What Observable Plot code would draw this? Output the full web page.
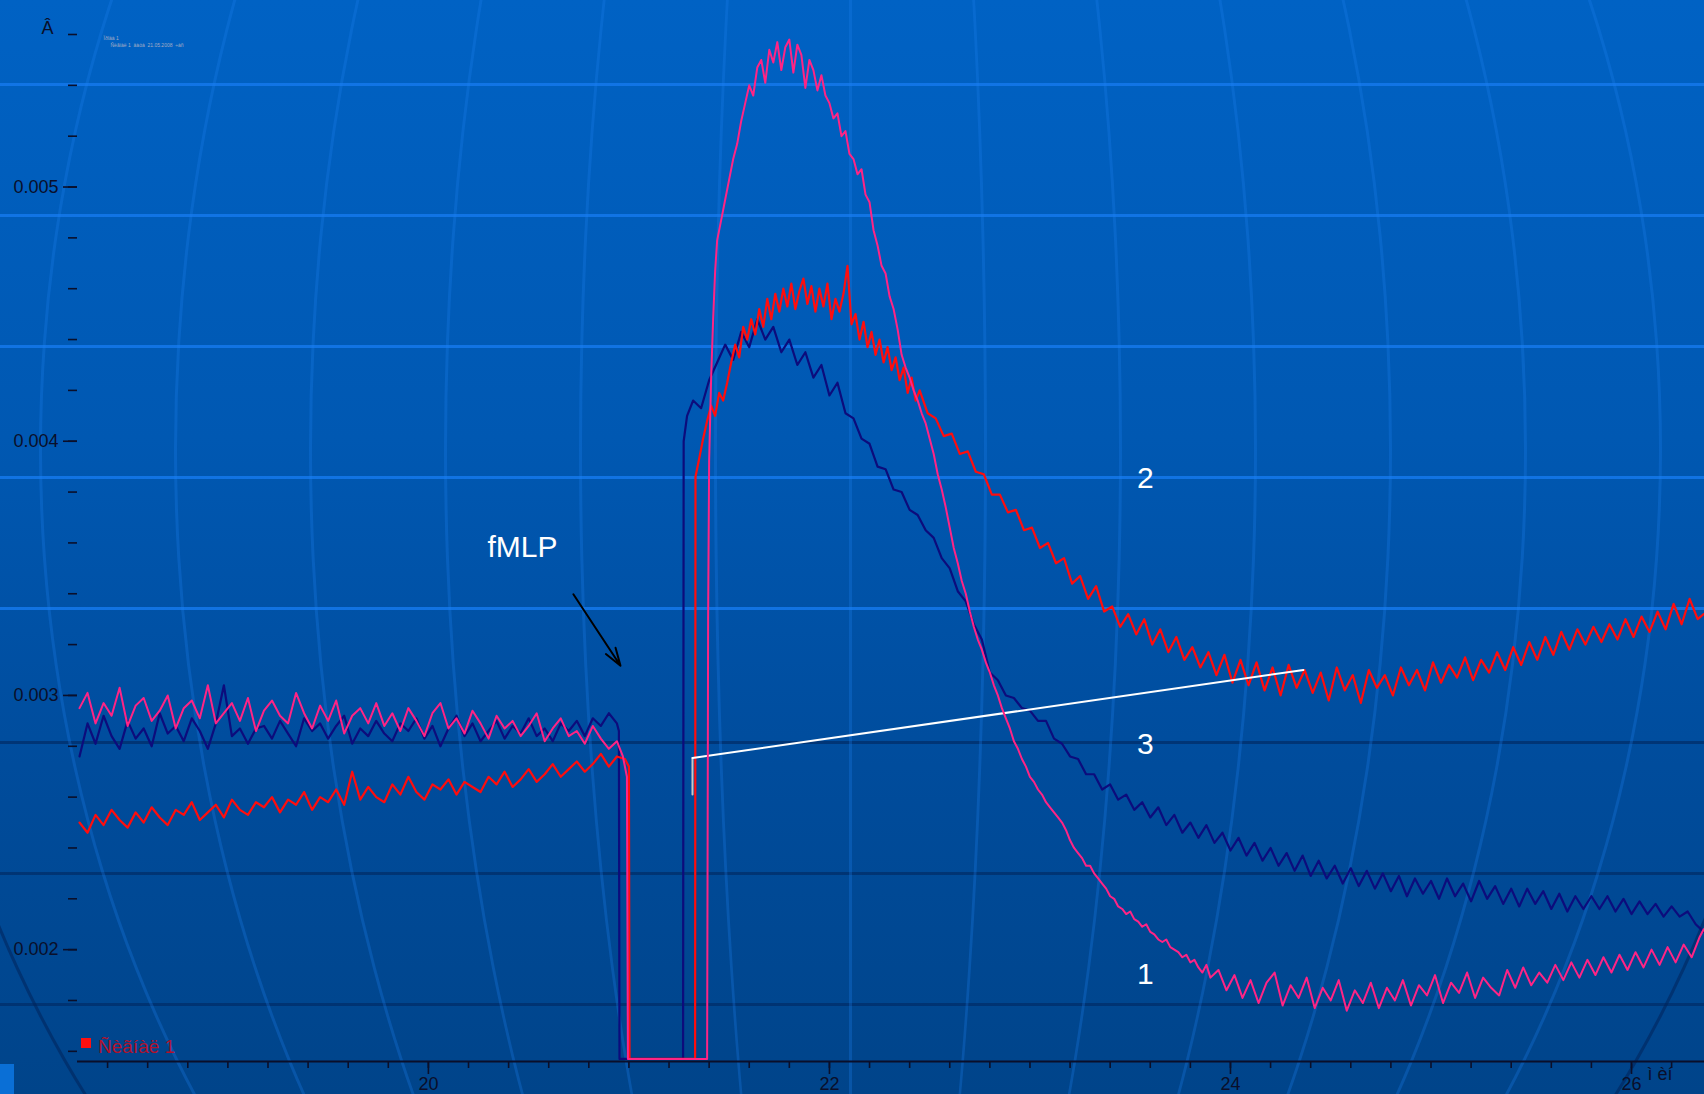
<!DOCTYPE html>
<html>
<head>
<meta charset="utf-8">
<script src="https://cdn.jsdelivr.net/npm/d3@7"></script>
<script src="https://cdn.jsdelivr.net/npm/@observablehq/plot@0.6"></script>
<style>
html, body { margin: 0; padding: 0; width: 1704px; height: 1094px; overflow: hidden; background: #00509f; }
#wrap {
  position: relative; width: 1704px; height: 1094px; overflow: hidden;
  background:
    repeating-linear-gradient(to bottom, transparent 0 83px, rgba(20,120,235,0.85) 83px 86px, transparent 86px 131px) 0 0 / 100% 680px no-repeat,
    repeating-linear-gradient(to bottom, transparent 0 61px, rgba(0,45,105,0.75) 61px 64px, transparent 64px 131px) 0 680px / 100% 414px no-repeat,
    linear-gradient(to bottom, #0062c4 0%, #0058b2 40%, #004c9c 70%, #00448a 100%);
}
#wrap svg { position: absolute; left: 0; top: 0; }
.meridian { position: absolute; box-sizing: border-box; border-radius: 50%; pointer-events: none; }
#legend { position: absolute; left: 81px; top: 1036px; font: 19px "Liberation Sans", Arial, sans-serif; color: #b0122c; white-space: nowrap; }
#legend .sw { display: inline-block; width: 10px; height: 10px; background: #ff1010; margin-right: 7px; vertical-align: 5px; }
#corner { position: absolute; left: 0; top: 1064px; width: 14px; height: 30px; background: #0a6fd6; }
</style>
</head>
<body>
<div id="wrap"></div>
<script>
// ---------- ticks ----------
const xMinorTicks = [18.4,18.6,18.8,19,19.2,19.4,19.6,19.8,20,20.2,20.4,20.6,20.8,21,21.2,21.4,21.6,21.8,22,22.2,22.4,22.6,22.8,23,23.2,23.4,23.6,23.8,24,24.2,24.4,24.6,24.8,25,25.2,25.4,25.6,25.8,26,26.2];
const xMajorTicks = [20, 22, 24, 26];
const yMinorTicks = [0.0016,0.0018,0.002,0.0022,0.0024,0.0026,0.0028,0.003,0.0032,0.0034,0.0036,0.0038,0.004,0.0042,0.0044,0.0046,0.0048,0.005,0.0052,0.0054,0.0056];
const yMajorTicks = [0.002, 0.003, 0.004, 0.005];

// ---------- texts ----------
const yAxisLabel = "Â";
const xAxisLabel = "ì èí";
const legendLabel = "Ñèãíàë 1";
const headerTiny = ["Ïðîáà 1", "Ñèãíàë 1  äàòà  21.05.2008  ÷àñ"];
const curveLabels = ["2", "3", "1"];
const curveLabelT = [23.576, 23.576, 23.576];
const curveLabelV = [0.003855, 0.002809, 0.001902];
const stimulusLabel = "fMLP";
const stimulusT = 20.469, stimulusV = 0.003582;
const arrowFrom = [20.723, 0.003398], arrowTo = [20.958, 0.003117];

// ---------- data: before stimulus (common time base) ----------
const preT = [18.26,18.30,18.34,18.38,18.42,18.46,18.50,18.54,18.58,18.62,18.66,18.70,18.74,18.78,18.82,18.86,18.90,18.94,18.98,19.02,19.06,19.10,19.14,19.18,19.22,19.26,19.30,19.34,19.38,19.42,19.46,19.50,19.54,19.58,19.62,19.66,19.70,19.74,19.78,19.82,19.86,19.90,19.94,19.98,20.02,20.06,20.10,20.14,20.18,20.22,20.26,20.30,20.34,20.38,20.42,20.46,20.50,20.54,20.58,20.62,20.66,20.70,20.74,20.78,20.82,20.86,20.90,20.94];
const pinkPre = [0.00295,0.00301,0.00289,0.00297,0.00292,0.00303,0.00288,0.00296,0.00299,0.00290,0.00294,0.00300,0.00287,0.00295,0.00298,0.00291,0.00304,0.00289,0.00293,0.00297,0.00290,0.00299,0.00286,0.00294,0.00298,0.00292,0.00289,0.00301,0.00293,0.00287,0.00296,0.00290,0.00298,0.00285,0.00292,0.00295,0.00289,0.00297,0.00288,0.00293,0.00286,0.00295,0.00290,0.00284,0.00293,0.00297,0.00287,0.00291,0.00285,0.00294,0.00289,0.00283,0.00292,0.00287,0.00290,0.00284,0.00288,0.00293,0.00282,0.00287,0.00291,0.00284,0.00286,0.00281,0.00288,0.00283,0.00279,0.00282];
const navyPre = [0.00276,0.00289,0.00281,0.00292,0.00284,0.00279,0.00290,0.00283,0.00287,0.00280,0.00293,0.00285,0.00288,0.00282,0.00291,0.00286,0.00279,0.00289,0.00304,0.00284,0.00287,0.00281,0.00287,0.00288,0.00283,0.00290,0.00285,0.00280,0.00291,0.00286,0.00289,0.00283,0.00288,0.00292,0.00281,0.00287,0.00284,0.00290,0.00285,0.00282,0.00289,0.00286,0.00291,0.00283,0.00288,0.00280,0.00287,0.00292,0.00284,0.00289,0.00282,0.00286,0.00290,0.00283,0.00288,0.00285,0.00291,0.00284,0.00287,0.00282,0.00289,0.00286,0.00290,0.00284,0.00291,0.00288,0.00293,0.00289];
const redPre = [0.00250,0.00246,0.00253,0.00249,0.00255,0.00251,0.00248,0.00254,0.00250,0.00256,0.00252,0.00249,0.00255,0.00253,0.00258,0.00251,0.00254,0.00257,0.00252,0.00259,0.00255,0.00253,0.00258,0.00256,0.00260,0.00254,0.00259,0.00257,0.00262,0.00255,0.00260,0.00258,0.00263,0.00257,0.00270,0.00259,0.00264,0.00260,0.00258,0.00265,0.00261,0.00268,0.00262,0.00259,0.00265,0.00263,0.00267,0.00261,0.00266,0.00264,0.00262,0.00268,0.00265,0.00270,0.00264,0.00267,0.00271,0.00266,0.00269,0.00273,0.00268,0.00271,0.00274,0.00270,0.00273,0.00277,0.00272,0.00276];

// ---------- data: after stimulus, [time, value] ----------
const pinkPost = [[20.97,0.00276],[20.99,0.00268],[20.995,0.00157],[21.39,0.00157],[21.395,0.00330],[21.40,0.00392],[21.41,0.00425],[21.42,0.00448],[21.43,0.00467],[21.44,0.00479],[21.46,0.00487],[21.48,0.00495],[21.50,0.00503],[21.52,0.00511],[21.54,0.00517],[21.56,0.00526],[21.58,0.00533],[21.60,0.00540],[21.62,0.00536],[21.64,0.00547],[21.66,0.00550],[21.68,0.00541],[21.70,0.00554],[21.72,0.00549],[21.74,0.00557],[21.76,0.00546],[21.78,0.00555],[21.80,0.00558],[21.82,0.00545],[21.84,0.00556],[21.86,0.00552],[21.88,0.00539],[21.90,0.00550],[21.92,0.00546],[21.94,0.00538],[21.96,0.00544],[21.98,0.00536],[22.00,0.00533],[22.02,0.00527],[22.04,0.00529],[22.06,0.00520],[22.08,0.00522],[22.10,0.00513],[22.12,0.00511],[22.14,0.00505],[22.16,0.00507],[22.18,0.00497],[22.20,0.00494],[22.22,0.00483],[22.24,0.00477],[22.26,0.00469],[22.28,0.00466],[22.30,0.00457],[22.32,0.00452],[22.34,0.00444],[22.36,0.00434],[22.38,0.00429],[22.40,0.00425],[22.42,0.00420],[22.44,0.00416],[22.46,0.00411],[22.48,0.00407],[22.50,0.00401],[22.52,0.00395],[22.54,0.00387],[22.56,0.00381],[22.58,0.00374],[22.60,0.00366],[22.62,0.00358],[22.64,0.00352],[22.66,0.00345],[22.68,0.00340],[22.70,0.00333],[22.72,0.00327],[22.74,0.00322],[22.76,0.00318],[22.78,0.00313],[22.80,0.00309],[22.82,0.00304],[22.84,0.00300],[22.86,0.00295],[22.88,0.00291],[22.90,0.00287],[22.92,0.00282],[22.94,0.00279],[22.96,0.00275],[22.98,0.00272],[23.00,0.00268],[23.02,0.00266],[23.04,0.00263],[23.06,0.00261],[23.08,0.00258],[23.10,0.00256],[23.12,0.00254],[23.14,0.00252],[23.16,0.00250],[23.18,0.00247],[23.20,0.00243],[23.22,0.00240],[23.24,0.00238],[23.26,0.00236],[23.28,0.00233],[23.30,0.00233],[23.32,0.00230],[23.34,0.00228],[23.36,0.00226],[23.38,0.00224],[23.40,0.00221],[23.42,0.00220],[23.44,0.00217],[23.46,0.00216],[23.48,0.00214],[23.50,0.00215],[23.52,0.00212],[23.54,0.00211],[23.56,0.00209],[23.58,0.00210],[23.60,0.00207],[23.62,0.00206],[23.64,0.00204],[23.66,0.00203],[23.68,0.00204],[23.70,0.00201],[23.72,0.00200],[23.74,0.00199],[23.76,0.00197],[23.78,0.00198],[23.80,0.00195],[23.82,0.00196],[23.84,0.00193],[23.86,0.00191],[23.88,0.00194],[23.90,0.00189],
[23.94,0.00192],[23.98,0.00184],[24.02,0.00190],[24.06,0.00181],[24.10,0.00188],[24.14,0.00179],[24.18,0.00187],[24.22,0.00191],[24.26,0.00178],[24.30,0.00186],[24.34,0.00181],[24.38,0.00189],[24.42,0.00177],[24.46,0.00185],[24.50,0.00180],[24.54,0.00188],[24.58,0.00176],[24.62,0.00184],[24.66,0.00179],[24.70,0.00187],[24.74,0.00177],[24.78,0.00185],[24.82,0.00180],[24.86,0.00188],[24.90,0.00178],[24.94,0.00186],[24.98,0.00182],[25.02,0.00190],[25.06,0.00179],[25.10,0.00187],[25.14,0.00183],[25.18,0.00191],[25.22,0.00181],[25.26,0.00189],[25.30,0.00185],[25.34,0.00182],[25.38,0.00192],[25.42,0.00185],[25.46,0.00193],[25.50,0.00186],[25.54,0.00191],[25.58,0.00187],[25.62,0.00194],[25.66,0.00188],[25.70,0.00195],[25.74,0.00189],[25.78,0.00196],[25.82,0.00190],[25.86,0.00197],[25.90,0.00191],[25.94,0.00198],[25.98,0.00192],[26.02,0.00199],[26.06,0.00193],[26.10,0.00200],[26.14,0.00194],[26.18,0.00201],[26.22,0.00195],[26.26,0.00202],[26.30,0.00197],[26.34,0.00205],[26.36,0.00208]];

const navyPost = [[20.95,0.00286],[20.953,0.00157],[21.27,0.00157],[21.273,0.00400],[21.29,0.00410],[21.32,0.00416],[21.36,0.00413],[21.40,0.00424],[21.44,0.00431],[21.48,0.00438],[21.52,0.00432],[21.56,0.00443],[21.60,0.00437],[21.64,0.00448],[21.68,0.00440],[21.72,0.00445],[21.76,0.00435],[21.80,0.00440],[21.84,0.00430],[21.88,0.00435],[21.92,0.00425],[21.96,0.00430],[22.00,0.00418],[22.04,0.00423],[22.08,0.00411],[22.12,0.00409],[22.16,0.00401],[22.20,0.00399],[22.24,0.00390],[22.28,0.00389],[22.32,0.00381],[22.36,0.00380],[22.40,0.00373],[22.44,0.00371],[22.48,0.00365],[22.52,0.00362],[22.56,0.00354],[22.60,0.00350],[22.64,0.00341],[22.68,0.00337],[22.72,0.00328],[22.76,0.00322],[22.80,0.00309],[22.84,0.00306],[22.88,0.00300],[22.92,0.00299],[22.96,0.00295],[23.00,0.00294],[23.04,0.00290],[23.08,0.00290],[23.12,0.00283],[23.16,0.00281],[23.20,0.00276],[23.24,0.00275],[23.28,0.00269],[23.32,0.00269],[23.36,0.00263],[23.40,0.00265],[23.44,0.00259],[23.48,0.00261],[23.52,0.00255],[23.56,0.00258],[23.60,0.00252],[23.64,0.00256],[23.68,0.00249],[23.72,0.00253],[23.76,0.00246],[23.80,0.00250],[23.84,0.00244],[23.88,0.00249],[23.92,0.00242],[23.96,0.00246],[24.00,0.00239],[24.04,0.00244],[24.08,0.00237],[24.12,0.00242],[24.16,0.00235],[24.20,0.00240],[24.24,0.00233],[24.28,0.00238],[24.32,0.00231],[24.36,0.00237],[24.40,0.00229],[24.44,0.00235],[24.48,0.00228],[24.52,0.00233],[24.56,0.00226],[24.60,0.00232],[24.64,0.00225],[24.68,0.00231],[24.72,0.00224],[24.76,0.00230],[24.80,0.00223],[24.84,0.00229],[24.88,0.00221],[24.92,0.00228],[24.96,0.00222],[25.00,0.00227],[25.04,0.00220],[25.08,0.00228],[25.12,0.00221],[25.16,0.00226],[25.20,0.00219],[25.24,0.00227],[25.28,0.00220],[25.32,0.00225],[25.36,0.00218],[25.40,0.00224],[25.44,0.00217],[25.48,0.00224],[25.52,0.00218],[25.56,0.00223],[25.60,0.00216],[25.64,0.00222],[25.68,0.00215],[25.72,0.00221],[25.76,0.00216],[25.80,0.00221],[25.84,0.00216],[25.88,0.00221],[25.92,0.00215],[25.96,0.00220],[26.00,0.00214],[26.04,0.00219],[26.08,0.00214],[26.12,0.00218],[26.16,0.00213],[26.20,0.00217],[26.24,0.00213],[26.28,0.00215],[26.32,0.00210],[26.36,0.00207]];

const redPost = [[20.98,0.00275],[21.00,0.00272],[21.003,0.00157],[21.33,0.00157],[21.332,0.00386],[21.35,0.00393],[21.37,0.00401],[21.39,0.00408],[21.41,0.00414],[21.43,0.00410],[21.45,0.00419],[21.47,0.00416],[21.49,0.00423],[21.51,0.00431],[21.53,0.00438],[21.55,0.00433],[21.57,0.00445],[21.59,0.00440],[21.61,0.00448],[21.63,0.00442],[21.65,0.00452],[21.67,0.00445],[21.69,0.00456],[21.71,0.00448],[21.73,0.00458],[21.75,0.00451],[21.77,0.00460],[21.79,0.00453],[21.81,0.00462],[21.83,0.00452],[21.85,0.00459],[21.87,0.00464],[21.89,0.00454],[21.91,0.00461],[21.93,0.00451],[21.95,0.00460],[21.97,0.00453],[21.99,0.00462],[22.01,0.00448],[22.03,0.00456],[22.05,0.00451],[22.07,0.00458],[22.09,0.00469],[22.11,0.00446],[22.13,0.00450],[22.15,0.00440],[22.17,0.00447],[22.19,0.00437],[22.21,0.00443],[22.23,0.00434],[22.25,0.00440],[22.27,0.00431],[22.29,0.00437],[22.31,0.00428],[22.33,0.00433],[22.35,0.00424],[22.37,0.00429],[22.39,0.00419],[22.41,0.00425],[22.43,0.00416],[22.45,0.00420],[22.49,0.00411],[22.53,0.00409],[22.57,0.00402],[22.61,0.00403],[22.65,0.00395],[22.69,0.00396],[22.73,0.00388],[22.77,0.00387],[22.81,0.00379],[22.85,0.00379],[22.89,0.00372],[22.93,0.00373],[22.97,0.00365],[23.01,0.00366],[23.05,0.00358],[23.09,0.00360],[23.13,0.00352],[23.17,0.00354],[23.21,0.00344],[23.25,0.00347],[23.29,0.00338],[23.33,0.00343],[23.37,0.00333],[23.41,0.00335],[23.45,0.00327],[23.49,0.00332],[23.53,0.00324],[23.57,0.00330],[23.61,0.00320],[23.65,0.00326],[23.69,0.00317],[23.73,0.00323],[23.77,0.00314],[23.81,0.00319],[23.85,0.00311],[23.89,0.00317],[23.93,0.00308],[23.97,0.00316],[24.01,0.00305],[24.05,0.00314],[24.09,0.00304],[24.13,0.00313],[24.17,0.00302],[24.21,0.00311],[24.25,0.00300],[24.29,0.00312],[24.33,0.00303],[24.37,0.00310],[24.41,0.00301],[24.45,0.00309],[24.49,0.00298],[24.53,0.00311],[24.57,0.00302],[24.61,0.00308],[24.65,0.00297],[24.69,0.00310],[24.73,0.00303],[24.77,0.00308],[24.81,0.00300],[24.85,0.00311],[24.89,0.00304],[24.93,0.00310],[24.97,0.00302],[25.01,0.00313],[25.05,0.00305],[25.09,0.00312],[25.13,0.00307],[25.17,0.00315],[25.21,0.00306],[25.25,0.00314],[25.29,0.00309],[25.33,0.00317],[25.37,0.00310],[25.41,0.00319],[25.45,0.00312],[25.49,0.00321],[25.53,0.00314],[25.57,0.00323],[25.61,0.00316],[25.65,0.00325],[25.69,0.00318],[25.73,0.00326],[25.77,0.00320],[25.81,0.00327],[25.85,0.00321],[25.89,0.00328],[25.93,0.00322],[25.97,0.00330],[26.01,0.00323],[26.05,0.00331],[26.09,0.00325],[26.13,0.00333],[26.17,0.00326],[26.21,0.00336],[26.25,0.00328],[26.29,0.00338],[26.33,0.00330],[26.36,0.00332]];

// white reference (baseline) segment and its small grey marker
const baseT = [21.317, 24.364], baseV = [0.002754, 0.0031];
const markT = [21.317, 21.317], markV = [0.002754, 0.00261];

// ---------- assemble ----------
const zip = (T, V) => T.map((t, i) => ({t, v: V[i]}));
const pairs = P => P.map(([t, v]) => ({t, v}));
const pink = zip(preT, pinkPre).concat(pairs(pinkPost));
const red = zip(preT, redPre).concat(pairs(redPost));
const navy = zip(preT, navyPre).concat(pairs(navyPost));
const base = zip(baseT, baseV);
const mark = zip(markT, markV);
const labels = curveLabels.map((s, i) => ({s, t: curveLabelT[i], v: curveLabelV[i]}));

const ink = "#0a0f2a";
const font = "'Liberation Sans', Arial, sans-serif";

const wrap = document.getElementById("wrap");

// decorative background "globe" meridians (window decoration, not data)
const globe = {cx: 850, cy: 450, r: 1100, step: 135, count: 7};
for (let k = 0; k <= globe.count; k++) {
  const d = document.createElement("div");
  d.className = "meridian";
  const a = k * globe.step;
  const col = k === globe.count ? "rgba(0,35,90,0.55)" : "rgba(30,130,240,0.28)";
  d.style.left = (globe.cx - a - 1.5) + "px";
  d.style.top = (globe.cy - globe.r) + "px";
  d.style.width = (2 * a + 3) + "px";
  d.style.height = (2 * globe.r) + "px";
  d.style.border = "3px solid " + col;
  if (k === 0) { d.style.borderRadius = "0"; d.style.borderRight = "none"; d.style.width = "3px"; }
  wrap.appendChild(d);
}

const chart = Plot.plot({
  width: 1704, height: 1094,
  marginLeft: 77, marginRight: 0, marginTop: 34, marginBottom: 33,
  x: {domain: [18.25, 26.364]},
  y: {domain: [0.00156, 0.0056]},
  style: {background: "transparent", fontFamily: font, fontSize: "18px", color: ink, overflow: "visible"},
  marks: [
    Plot.axisY(yMinorTicks, {tickSize: 9, tickFormat: () => "", strokeWidth: 1.6, label: null}),
    Plot.axisY(yMajorTicks, {tickSize: 14, tickPadding: 5, tickFormat: d3.format(".3f"), strokeWidth: 1.6, label: null, fontSize: 18}),
    Plot.axisX(xMinorTicks, {tickSize: 7, tickFormat: () => "", strokeWidth: 1.6, label: null}),
    Plot.axisX(xMajorTicks, {tickSize: 13, tickPadding: 3, tickFormat: d => String(d), strokeWidth: 1.6, label: null, fontSize: 18}),
    Plot.ruleY([0.00156], {stroke: ink, strokeWidth: 1.8}),
    Plot.line(navy, {x: "t", y: "v", stroke: "#0c0c7c", strokeWidth: 2.2}),
    Plot.line(red, {x: "t", y: "v", stroke: "#ff0d0d", strokeWidth: 2.2}),
    Plot.line(mark, {x: "t", y: "v", stroke: "#c8c8c8", strokeWidth: 2}),
    Plot.line(base, {x: "t", y: "v", stroke: "#ffffff", strokeWidth: 2}),
    Plot.line(pink, {x: "t", y: "v", stroke: "#ff2485", strokeWidth: 2}),
    Plot.arrow([{x1: arrowFrom[0], y1: arrowFrom[1], x2: arrowTo[0], y2: arrowTo[1]}],
      {x1: "x1", y1: "y1", x2: "x2", y2: "y2", stroke: "#000000", strokeWidth: 2, headLength: 14, headAngle: 36}),
    Plot.text([stimulusLabel], {x: stimulusT, y: stimulusV, text: d => d, fill: "white", fontSize: 30, fontFamily: font}),
    Plot.text(labels, {x: "t", y: "v", text: "s", fill: "white", fontSize: 30, fontFamily: font}),
    Plot.text([yAxisLabel], {frameAnchor: "top-left", dx: -36, dy: -13, text: d => d, fill: ink, fontSize: 18, fontFamily: font}),
    Plot.text([xAxisLabel], {frameAnchor: "bottom-right", dx: -57, dy: 18, textAnchor: "start", text: d => d, fill: ink, fontSize: 18, fontFamily: font}),
    Plot.text([headerTiny[0]], {frameAnchor: "top-left", dx: 26, dy: 2, textAnchor: "start", text: d => d, fill: "#a4acc4", fontSize: 5}),
    Plot.text([headerTiny[1]], {frameAnchor: "top-left", dx: 33, dy: 9, textAnchor: "start", text: d => d, fill: "#a4acc4", fontSize: 5})
  ]
});

wrap.appendChild(chart);
const corner = document.createElement("div");
corner.id = "corner";
wrap.appendChild(corner);
const legend = document.createElement("div");
legend.id = "legend";
legend.innerHTML = '<span class="sw"></span>' + legendLabel;
wrap.appendChild(legend);
</script>
</body>
</html>
